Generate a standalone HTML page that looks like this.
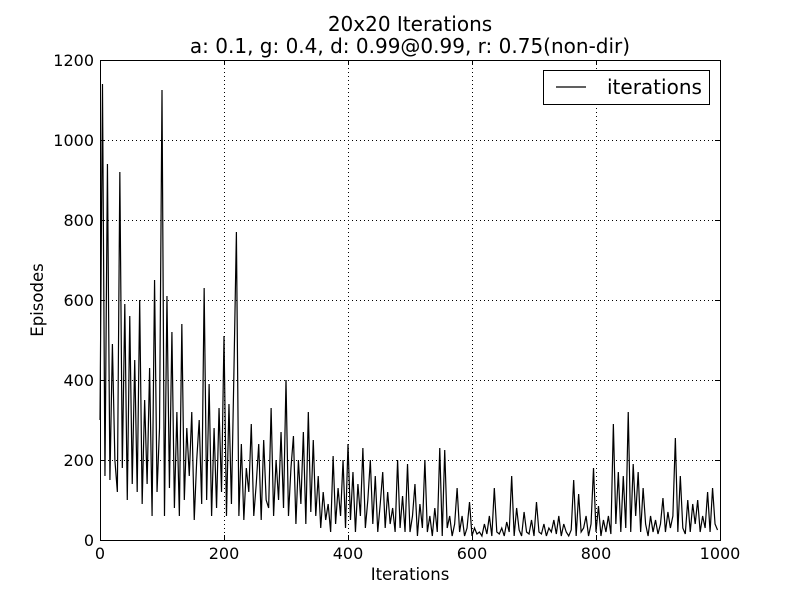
<!DOCTYPE html>
<html><head><meta charset="utf-8"><style>
body{margin:0;background:#fff;}
svg{display:block;font-family:"DejaVu Sans","Liberation Sans",sans-serif;}
</style></head><body>
<svg id="chart" width="800" height="600">
<rect width="800" height="600" fill="#fff"/>
<text x="410" y="31" font-size="20" text-anchor="middle">20x20 Iterations</text>
<text x="410" y="53" font-size="20" text-anchor="middle">a: 0.1, g: 0.4, d: 0.99@0.99, r: 0.75(non-dir)</text>
<g id="grid"></g>
<g id="series"></g>
<g id="axes"></g>
<text x="410" y="580" font-size="16.5" text-anchor="middle">Iterations</text>
<text transform="translate(43,300) rotate(-90)" font-size="16.5" text-anchor="middle">Episodes</text>
<g>
<rect x="543.5" y="70.5" width="166" height="34" fill="#fff" stroke="#000"/>
<line x1="556" y1="87" x2="586" y2="87" stroke="#000" stroke-width="1.2"/>
<text x="607" y="94" font-size="20">iterations</text>
</g>
</svg>
<script>
const xTicks=[0,200,400,600,800,1000];
const yTicks=[0,200,400,600,800,1000,1200];
const step=4;
const values=[300,1140,160,940,150,490,200,120,920,180,590,100,560,140,450,120,600,90,350,140,430,60,650,120,280,
1125,60,610,130,520,80,320,60,540,100,280,160,320,50,200,300,90,630,100,390,60,280,80,330,120,
510,60,340,90,420,770,60,240,50,180,120,290,60,140,240,50,250,100,80,330,60,200,100,270,80,
400,60,180,260,40,200,90,270,40,320,70,250,60,160,30,120,50,90,20,210,40,130,60,200,30,
240,50,170,20,140,60,230,30,100,200,40,160,20,90,170,30,120,40,80,20,200,30,110,20,190,
20,60,140,10,90,30,200,20,60,10,80,20,230,10,225,30,60,10,40,130,20,60,10,30,95,
10,30,15,20,10,40,15,60,10,130,20,15,30,10,45,20,160,10,80,25,10,70,20,15,50,
10,95,20,15,40,10,30,20,50,15,60,10,40,20,10,25,150,10,115,20,30,60,10,40,180,
20,85,10,50,20,60,15,290,40,170,20,160,30,320,20,190,60,170,20,130,40,10,60,20,50,
15,40,105,20,70,30,60,255,20,160,30,15,100,20,90,40,100,20,60,30,120,20,130,40,25];
const L=100,R=720,T=60,B=540;
const xs=v=>L+(v/1000)*(R-L);
const ys=v=>B-(v/1200)*(B-T);
const NS="http://www.w3.org/2000/svg";
const grid=document.getElementById('grid'),axes=document.getElementById('axes'),series=document.getElementById('series');
function mk(tag,attrs,parent){const e=document.createElementNS(NS,tag);for(const k in attrs)e.setAttribute(k,attrs[k]);parent.appendChild(e);return e;}
xTicks.forEach(t=>{const x=Math.round(xs(t))+0.5;
 if(t>0&&t<1000){const g=mk('line',{x1:x,y1:T,x2:x,y2:B,stroke:'#000','stroke-dasharray':'1,3','stroke-width':1},grid);
 
 }
 const a=mk('line',{x1:x,y1:B,x2:x,y2:B-5,stroke:'#000'},axes);
 
 
 const b=mk('line',{x1:x,y1:T,x2:x,y2:T+5,stroke:'#000'},axes);
 
 
 const tx=mk('text',{x:xs(t),y:B+19,'font-size':16,'text-anchor':'middle'},axes);tx.textContent=t;
 
 });
yTicks.forEach(t=>{const y=Math.round(ys(t))+0.5;
 if(t>0&&t<1200){const g=mk('line',{x1:L,y1:y,x2:R,y2:y,stroke:'#000','stroke-dasharray':'1,3','stroke-width':1},grid);
 
 }
 const a=mk('line',{x1:L,y1:y,x2:L+5,y2:y,stroke:'#000'},axes);
 
 
 const b=mk('line',{x1:R,y1:y,x2:R-5,y2:y,stroke:'#000'},axes);
 
 
 const tx=mk('text',{x:L-6,y:ys(t)+6,'font-size':16,'text-anchor':'end'},axes);tx.textContent=t;
 
 });
const fr=mk('rect',{x:L+0.5,y:T+0.5,width:R-L,height:B-T,fill:'none',stroke:'#000'},axes);


const pts=values.map((v,i)=>xs(i*step).toFixed(2)+','+ys(v).toFixed(2)).join(' ');
const pl=mk('polyline',{points:pts,fill:'none',stroke:'#000','stroke-width':1.2},series);


</script>
</body></html>
